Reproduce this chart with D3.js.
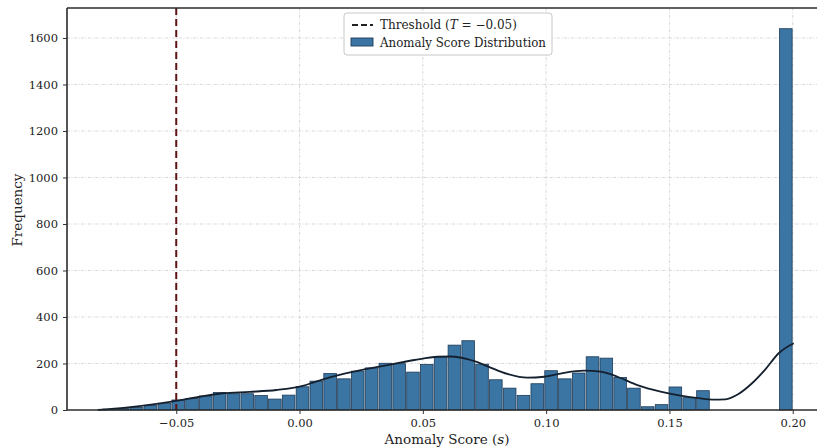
<!DOCTYPE html>
<html>
<head>
<meta charset="utf-8">
<script src="https://cdn.jsdelivr.net/npm/d3@7"></script>
<style>
  html, body { margin: 0; padding: 0; background: #fff; }
  svg { display: block; font-family: "DejaVu Serif", serif; }
</style>
</head>
<body>
<svg id="chart" width="817" height="448"></svg>
<script>
// Histogram of anomaly scores: 50 equal bins from -0.08 to 0.20
const binStart = -0.08;
const binWidth = 0.0056;
const counts = [
  4, 6, 11, 20, 29, 43, 49, 60, 75, 70,
  70, 62, 47, 64, 100, 124, 157, 134, 167, 181,
  201, 199, 163, 196, 229, 279, 298, 197, 130, 94,
  63, 113, 169, 134, 159, 229, 223, 140, 94, 14,
  23, 99, 53, 83, 0, 0, 0, 0, 0, 1640
];

// Kernel density estimate, scaled to counts
const kdeX = [-0.0818, -0.0704, -0.058, -0.0502, -0.0405, -0.0311, -0.0202, -0.0094, 0.0013, 0.0061,
  0.0142, 0.025, 0.0357, 0.0466, 0.056, 0.0614, 0.0681, 0.0709, 0.0763, 0.0843,
  0.0924, 0.0992, 0.1073, 0.1154, 0.1221, 0.1289, 0.137, 0.1464, 0.1545, 0.1626,
  0.1673, 0.1727, 0.178, 0.1835, 0.1889, 0.1943, 0.2004];
const kdeY = [0, 10, 26, 39, 57, 72, 78, 86, 104, 120,
  146, 172, 193, 215, 229, 230, 219, 210, 188, 155,
  139, 143, 160, 169, 165, 143, 107, 79, 62, 50,
  45, 46, 69, 115, 175, 244, 287];

const threshold = -0.05;
const xTicks = [-0.05, 0.00, 0.05, 0.10, 0.15, 0.20];
const yTicks = [0, 200, 400, 600, 800, 1000, 1200, 1400, 1600];

const barColor = "#3a75a4";
const barEdge = "#1f3a57";
const threshColor = "#5e1414";

const svg = d3.select("#chart");
const plot = { left: 67, right: 828, top: 8, bottom: 410 };

const x = d3.scaleLinear().domain([-0.0943, 0.2143]).range([plot.left, plot.right]);
const y = d3.scaleLinear().domain([0, 1729]).range([plot.bottom, plot.top]);

const bins = counts.map((c, i) => ({
  x0: binStart + i * binWidth,
  x1: binStart + (i + 1) * binWidth,
  count: c
}));

// grid
const grid = svg.append("g").attr("stroke", "#cfcfcf").attr("stroke-width", 0.8)
  .attr("stroke-dasharray", "3,1.5,1,1.5");
grid.selectAll("line.h").data(yTicks.slice(1)).join("line")
  .attr("x1", plot.left).attr("x2", plot.right)
  .attr("y1", d => y(d)).attr("y2", d => y(d));
grid.selectAll("line.v").data(xTicks).join("line")
  .attr("y1", plot.top).attr("y2", plot.bottom)
  .attr("x1", d => x(d)).attr("x2", d => x(d));

// bars, with a thin white seam between neighbours
svg.append("g").selectAll("rect").data(bins.filter(b => b.count > 0)).join("rect")
  .attr("x", d => x(d.x0) + 0.6)
  .attr("width", d => x(d.x1) - x(d.x0) - 1.2)
  .attr("y", d => y(d.count))
  .attr("height", d => y(0) - y(d.count))
  .attr("fill", barColor)
  .attr("stroke", barEdge)
  .attr("stroke-width", 0.8);

// KDE curve
const line = d3.line().x((d, i) => x(kdeX[i])).y(d => y(d)).curve(d3.curveMonotoneX);
svg.append("path").datum(kdeY)
  .attr("d", line)
  .attr("fill", "none")
  .attr("stroke", "#14202e")
  .attr("stroke-width", 1.8);

// threshold
svg.append("line")
  .attr("x1", x(threshold)).attr("x2", x(threshold))
  .attr("y1", plot.top).attr("y2", plot.bottom)
  .attr("stroke", threshColor)
  .attr("stroke-width", 2)
  .attr("stroke-dasharray", "7,4");

// axes
const xAxis = d3.axisBottom(x).tickValues(xTicks).tickSize(4).tickPadding(5)
  .tickFormat(d => d3.format(".2f")(d).replace("-", "\u2212"));
const gx = svg.append("g").attr("transform", `translate(0,${plot.bottom})`).call(xAxis);
gx.select(".domain").remove();
gx.selectAll(".tick line").attr("stroke", "#333").attr("stroke-width", 1);
gx.selectAll(".tick text").attr("fill", "#222").style("font-size", "11.5px")
  .style("font-family", "DejaVu Serif, serif");

const yAxis = d3.axisLeft(y).tickValues(yTicks).tickSize(4).tickPadding(5)
  .tickFormat(d3.format("d"));
const gy = svg.append("g").attr("transform", `translate(${plot.left},0)`).call(yAxis);
gy.select(".domain").remove();
gy.selectAll(".tick line").attr("stroke", "#333").attr("stroke-width", 1);
gy.selectAll(".tick text").attr("fill", "#222").style("font-size", "11.5px")
  .style("font-family", "DejaVu Serif, serif");

// spines
const spines = svg.append("g").attr("stroke", "#2b2b2b").attr("stroke-width", 1.6).attr("fill", "none");
spines.append("line").attr("x1", plot.left).attr("x2", plot.left).attr("y1", plot.top).attr("y2", plot.bottom);
spines.append("line").attr("x1", plot.left).attr("x2", plot.right).attr("y1", plot.bottom).attr("y2", plot.bottom);
spines.append("line").attr("x1", plot.left).attr("x2", plot.right).attr("y1", plot.top).attr("y2", plot.top);

// axis labels
const xl = svg.append("text").attr("x", 447).attr("y", 444).attr("text-anchor", "middle")
  .attr("fill", "#222").style("font-size", "13.5px");
xl.append("tspan").text("Anomaly Score (");
xl.append("tspan").attr("font-style", "italic").text("s");
xl.append("tspan").text(")");

svg.append("text").attr("transform", "translate(22,210) rotate(-90)")
  .attr("text-anchor", "middle").attr("fill", "#222").style("font-size", "13.5px")
  .text("Frequency");

// legend
const lg = svg.append("g");
lg.append("rect").attr("x", 344).attr("y", 13).attr("width", 208).attr("height", 42)
  .attr("rx", 3).attr("fill", "#fff").attr("stroke", "#c8c8c8").attr("stroke-width", 1);
lg.append("line").attr("x1", 352).attr("x2", 373).attr("y1", 25).attr("y2", 25)
  .attr("stroke", "#222").attr("stroke-width", 2).attr("stroke-dasharray", "6,3");
const t1 = lg.append("text").attr("x", 380).attr("y", 29).attr("fill", "#222").style("font-size", "12px");
t1.append("tspan").text("Threshold (");
t1.append("tspan").attr("font-style", "italic").text("T");
t1.append("tspan").text(" = \u22120.05)");
lg.append("rect").attr("x", 351).attr("y", 38).attr("width", 22).attr("height", 8)
  .attr("fill", barColor).attr("stroke", barEdge).attr("stroke-width", 0.9);
lg.append("text").attr("x", 380).attr("y", 47).attr("fill", "#222").style("font-size", "12px")
  .attr("textLength", 166).attr("lengthAdjust", "spacingAndGlyphs")
  .text("Anomaly Score Distribution");
</script>
</body>
</html>
